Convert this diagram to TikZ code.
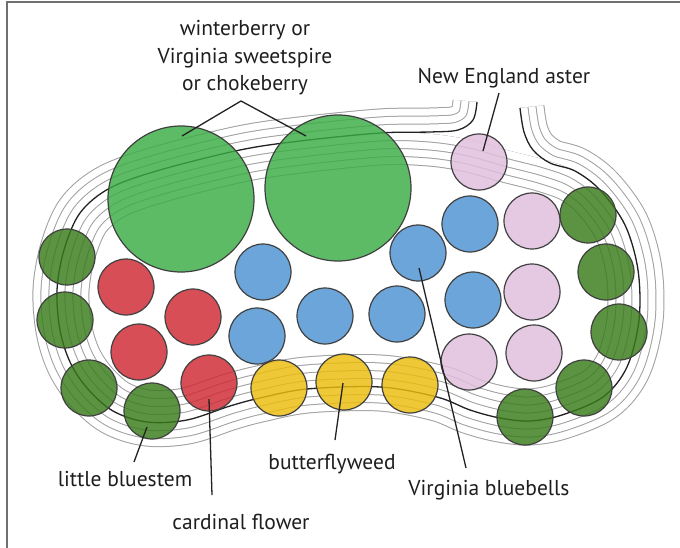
\documentclass[tikz,border=0pt]{standalone}
\usepackage{fontspec}
\setmainfont{PT Sans}
\definecolor{bigg}{HTML}{3AAD45}
\definecolor{dkg}{HTML}{387C1A}
\definecolor{redc}{HTML}{CF2831}
\definecolor{bluc}{HTML}{4B92D3}
\definecolor{yelc}{HTML}{ECBD0B}
\definecolor{pnkc}{HTML}{E0BEDD}
\definecolor{edgec}{HTML}{404040}
\definecolor{cgray}{HTML}{A0A0A0}
\definecolor{cblack}{HTML}{222222}
\definecolor{framec}{HTML}{707070}
\definecolor{txtc}{HTML}{1E1E1E}
\newcommand\BlackPath{plot[smooth,tension=0.55] coordinates {(477,102) (473,120) (458,130) (430,132) (380,133) (300,141) (240,150) (160,170) (110,188) (80,213) (64,250) (57,290) (60,330) (70,362) (87,388) (113,411) (147,422) (187,420) (230,406) (260,398) (307,389) (380,387) (437,397) (470,410) (500,418) (530,421) (562,415) (603,397) (627,367) (639,320) (638,270) (625,225) (600,190) (575,171) (550,163) (533,150) (524,132) (520,108)}}
\newcommand\InnerPath{plot[smooth cycle,tension=0.55] coordinates {(430,134) (380,133) (300,141) (240,150) (160,170) (110,188) (80,213) (64,250) (57,290) (60,330) (70,362) (87,388) (113,411) (147,422) (187,420) (230,406) (260,398) (307,389) (380,387) (437,397) (470,410) (500,418) (530,421) (562,415) (603,397) (627,367) (639,320) (638,270) (625,225) (600,190) (575,171) (545,160) (510,151) (470,140)}}
\begin{document}
\begin{tikzpicture}[x=1pt,y=-1pt,
  plant/.style={circle, draw=edgec, line width=1.2pt, minimum size=56pt, inner sep=0pt, fill opacity=0.82},
  shrub/.style={plant, fill=bigg, minimum size=146pt},
  dgreen/.style={plant, fill=dkg},
  redp/.style={plant, fill=redc},
  bluep/.style={plant, fill=bluc},
  yelp/.style={plant, fill=yelc},
  pinkp/.style={plant, fill=pnkc},
  lbl/.style={font=\fontsize{21.5}{26}\selectfont, text=txtc, anchor=base, inner sep=0pt},
  pointer/.style={draw=cblack, line width=1.3pt}]
\useasboundingbox (0,0) rectangle (680,548);
\fill[white] (0,0) rectangle (680,548);
% outer contour lines
\foreach \w/\v in {49/47,33/31,17/15}{
  \draw[cgray, line width=\w pt, line join=round] \BlackPath;
  \draw[white, line width=\v pt, line join=round] \BlackPath;
}
\fill[white] \BlackPath -- (520,95) -- (477,95) -- cycle;
% inner contour lines
\begin{scope}
\clip \InnerPath;
\foreach \w/\v in {65/63,49/47,33/31,17/15}{
  \draw[cgray, line width=\w pt, line join=round] \InnerPath;
  \draw[white, line width=\v pt, line join=round] \InnerPath;
}
\end{scope}
\draw[cblack, line width=1.3pt] \BlackPath;
% frame
\draw[framec, line width=2pt] (7,548) -- (7,2) -- (680,2);
% shrubs
\node[shrub] (s1) at (181,199) {};
\node[shrub] (s2) at (338,188) {};
% little bluestem
\node[dgreen] (g1) at (67,257) {};
\node[dgreen] (g2) at (65,320) {};
\node[dgreen] (g3) at (89,388) {};
\node[dgreen] (g4) at (152,411) {};
\node[dgreen] (g5) at (525,417) {};
\node[dgreen] (g6) at (584,388) {};
\node[dgreen] (g7) at (588,215) {};
\node[dgreen] (g8) at (606,272) {};
\node[dgreen] (g9) at (619,332) {};
% cardinal flower
\node[redp] (r1) at (126,287) {};
\node[redp] (r2) at (193,317) {};
\node[redp] (r3) at (139,352) {};
\node[redp] (r4) at (209,383) {};
% bluebells
\node[bluep] (b1) at (263,272) {};
\node[bluep] (b2) at (257,336) {};
\node[bluep] (b3) at (325,316) {};
\node[bluep] (b4) at (397,314) {};
\node[bluep] (b5) at (418,253) {};
\node[bluep] (b6) at (470,224) {};
\node[bluep] (b7) at (473,300) {};
% aster
\node[pinkp] (p1) at (479,162) {};
\node[pinkp] (p2) at (532,221) {};
\node[pinkp] (p3) at (532,292) {};
\node[pinkp] (p4) at (534,353) {};
\node[pinkp] (p5) at (469,362) {};
% butterflyweed
\node[yelp] (y1) at (279,388) {};
\node[yelp] (y2) at (344,382) {};
\node[yelp] (y3) at (410,385) {};
% labels
\node[lbl] (t1) at (245,36) {winterberry or};
\node[lbl] (t2) at (245,63.5) {Virginia sweetspire};
\node[lbl] (t3) at (245,91) {or chokeberry};
\node[lbl] (tA) at (504,84) {New England aster};
\node[lbl] (tL) at (125,486) {little bluestem};
\node[lbl] (tC) at (241,529) {cardinal flower};
\node[lbl] (tB) at (332,469) {butterflyweed};
\node[lbl] (tV) at (489,495) {Virginia bluebells};
% pointer ends
\coordinate (v0) at (241,101);
\coordinate (v1) at (182,136);
\coordinate (v2) at (306,136);
\coordinate (a0) at (499,93);
\coordinate (a1) at (483,151);
\coordinate (l0) at (147,427);
\coordinate (l1) at (134,462);
\coordinate (c0) at (209,399);
\coordinate (c1) at (212,495);
\coordinate (bw0) at (343,383);
\coordinate (bw1) at (335,440);
\coordinate (vb0) at (419,268);
\coordinate (vb1) at (466,468);
\draw[pointer] (v1) -- (v0) -- (v2);
\draw[pointer] (a0) -- (a1);
\draw[pointer] (l0) -- (l1);
\draw[pointer] (c0) -- (c1);
\draw[pointer] (bw0) -- (bw1);
\draw[pointer] (vb0) -- (vb1);
\end{tikzpicture}
\end{document}
